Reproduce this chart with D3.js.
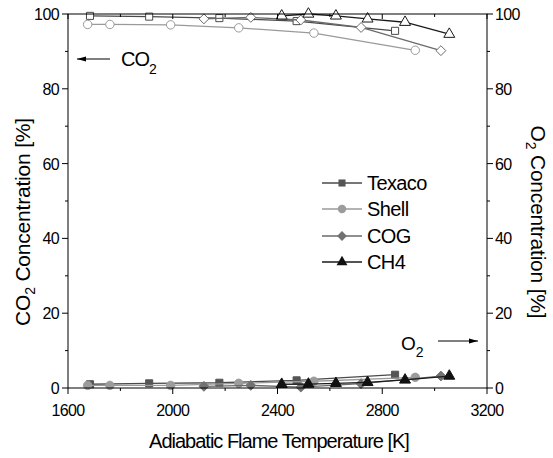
<!DOCTYPE html>
<html>
<head>
<meta charset="utf-8">
<script src="https://cdn.jsdelivr.net/npm/d3@7"></script>
<style>
	body { margin: 0; background: #fff; }
	svg text { font-family: "Liberation Sans", Arial, sans-serif; fill: #000; }
</style>
</head>
<body>
<div id="chart"></div>
<script>
"use strict";

// fuels, in legend order
var fuels = ["Texaco", "Shell", "COG", "CH4"];

// adiabatic flame temperatures [K], one array per fuel
var texacoT = [1684, 1910, 2178, 2473, 2849];
var shellT  = [1675, 1760, 1992, 2252, 2539, 2926];
var cogT    = [2119, 2298, 2489, 2719, 3024];
var ch4T    = [2416, 2518, 2623, 2744, 2887, 3056];

// CO2 concentration [%] (left axis)
var texacoCO2 = [99.5, 99.3, 98.9, 98.1, 95.5];
var shellCO2  = [97.2, 97.2, 97.1, 96.3, 94.9, 90.3];
var cogCO2    = [98.7, 99.1, 98.4, 96.4, 90.2];
var ch4CO2    = [99.5, 100, 99.5, 98.7, 97.8, 94.6];

// O2 concentration [%] (right axis)
var texacoO2 = [1.0, 1.25, 1.4, 2.05, 3.55];
var shellO2  = [0.7, 0.7, 0.7, 1.25, 1.8, 2.85];
var cogO2    = [0.45, 0.7, 0.25, 1.15, 3.2];
var ch4O2    = [1.0, 1.05, 1.25, 1.5, 2.15, 3.2];

// tick values
var xTicks = [1600, 2000, 2400, 2800, 3200];
var yTicks = [0, 20, 40, 60, 80, 100];

var W = 553, H = 458;
var L = 68, R = 487, T = 14, B = 388;

var series = [
	{name: "Texaco", t: texacoT, co2: texacoCO2, o2: texacoO2, sym: d3.symbolSquare,   size: 50, line: "#4a4a4a", fill: "#555555"},
	{name: "Shell",  t: shellT,  co2: shellCO2,  o2: shellO2,  sym: d3.symbolCircle,   size: 56, line: "#9a9a9a", fill: "#9c9c9c"},
	{name: "COG",    t: cogT,    co2: cogCO2,    o2: cogO2,    sym: d3.symbolDiamond2, size: 62, line: "#6a6a6a", fill: "#727272"},
	{name: "CH4",    t: ch4T,    co2: ch4CO2,    o2: ch4O2,    sym: d3.symbolTriangle, size: 52, line: "#1a1a1a", fill: "#111111"}
];

var svg = d3.select("#chart").append("svg")
	.attr("width", W).attr("height", H);

var x = d3.scaleLinear().domain([1600, 3200]).range([L, R]);
var y = d3.scaleLinear().domain([0, 100]).range([B, T]);

var minorX = d3.range(1800, 3200, 400);
var minorY = d3.range(10, 100, 20);

//
//	Frame and ticks
//
function drawAxes(){
	var g = svg.append("g").attr("stroke", "#000").attr("stroke-width", 1).attr("fill", "none");
	g.append("rect").attr("x", L).attr("y", T).attr("width", R - L).attr("height", B - T);

	// bottom: outward, top: inward
	xTicks.forEach(function(v){
		g.append("line").attr("x1", x(v)).attr("x2", x(v)).attr("y1", B).attr("y2", B + 6);
		g.append("line").attr("x1", x(v)).attr("x2", x(v)).attr("y1", T).attr("y2", T + 5);
	});
	minorX.forEach(function(v){
		g.append("line").attr("x1", x(v)).attr("x2", x(v)).attr("y1", B).attr("y2", B + 3);
		g.append("line").attr("x1", x(v)).attr("x2", x(v)).attr("y1", T).attr("y2", T + 3);
	});
	// left and right, both outward
	yTicks.forEach(function(v){
		g.append("line").attr("x1", L - 6).attr("x2", L).attr("y1", y(v)).attr("y2", y(v));
		g.append("line").attr("x1", R).attr("x2", R + 6).attr("y1", y(v)).attr("y2", y(v));
	});
	minorY.forEach(function(v){
		g.append("line").attr("x1", L - 3).attr("x2", L).attr("y1", y(v)).attr("y2", y(v));
		g.append("line").attr("x1", R).attr("x2", R + 3).attr("y1", y(v)).attr("y2", y(v));
	});

	var lab = svg.append("g").style("font-size", "16px").style("letter-spacing", "-0.6px");
	xTicks.forEach(function(v){
		lab.append("text").attr("x", x(v)).attr("y", 416).attr("text-anchor", "middle").text(v);
	});
	yTicks.forEach(function(v){
		lab.append("text").attr("x", L - 9).attr("y", y(v) + 6).attr("text-anchor", "end").text(v);
		lab.append("text").attr("x", R + 8).attr("y", y(v) + 6).attr("text-anchor", "start").text(v);
	});
}

//
//	Titles (with subscripts)
//
function drawTitles(){
	svg.append("text").attr("x", 279).attr("y", 448).attr("text-anchor", "middle")
		.style("font-size", "20px").style("letter-spacing", "-1px")
		.text("Adiabatic Flame Temperature [K]");

	var lt = svg.append("text").attr("transform", "translate(30,222) rotate(-90)")
		.attr("text-anchor", "middle").style("font-size", "21px").style("letter-spacing", "-0.2px");
	lt.append("tspan").text("CO");
	lt.append("tspan").attr("dy", 5).style("font-size", "14px").text("2");
	lt.append("tspan").attr("dy", -5).text(" Concentration [%]");

	var rt = svg.append("text").attr("transform", "translate(531,222) rotate(90)")
		.attr("text-anchor", "middle").style("font-size", "21px").style("letter-spacing", "-0.2px");
	rt.append("tspan").text("O");
	rt.append("tspan").attr("dy", 5).style("font-size", "14px").text("2");
	rt.append("tspan").attr("dy", -5).text(" Concentration [%]");
}

//
//	Curves: CO2 with open markers, O2 with filled ones
//
function drawSeries(){
	var line = d3.line().x(function(d){ return x(d[0]); }).y(function(d){ return y(d[1]); });
	["co2", "o2"].forEach(function(key){
		series.forEach(function(s){
			var pts = s.t.map(function(t, i){ return [t, s[key][i]]; });
			var g = svg.append("g");
			g.append("path").attr("d", line(pts)).attr("fill", "none")
				.attr("stroke", s.line).attr("stroke-width", 1.3);
			g.selectAll("path.m").data(pts).enter().append("path").attr("class", "m")
				.attr("transform", function(d){ return "translate(" + x(d[0]) + "," + y(d[1]) + ")"; })
				.attr("d", d3.symbol().type(s.sym).size(s.size))
				.attr("fill", key == "co2" ? "#fff" : s.fill)
				.attr("stroke", key == "co2" ? s.line : s.fill)
				.attr("stroke-width", 1);
		});
	});
}

function drawLegend(){
	var lg = svg.append("g");
	var rows = [183, 209, 236, 262];
	series.forEach(function(s, i){
		var yy = rows[i];
		lg.append("line").attr("x1", 322).attr("x2", 362).attr("y1", yy).attr("y2", yy)
			.attr("stroke", s.line).attr("stroke-width", 1.3);
		lg.append("path").attr("transform", "translate(342," + yy + ")")
			.attr("d", d3.symbol().type(s.sym).size(s.size)).attr("fill", s.fill);
		lg.append("text").attr("x", 367).attr("y", yy + 7)
			.style("font-size", "20px").style("letter-spacing", "-0.6px").text(fuels[i]);
	});
}

function arrow(x1, x2, yy){
	svg.append("line").attr("x1", x1).attr("x2", x2).attr("y1", yy).attr("y2", yy)
		.attr("stroke", "#000").attr("stroke-width", 1.2);
	var d = x2 > x1 ? 1 : -1;
	svg.append("path")
		.attr("d", "M" + x2 + "," + yy + "L" + (x2 - d * 9) + "," + (yy - 2.5) + "L" + (x2 - d * 9) + "," + (yy + 2.5) + "Z")
		.attr("fill", "#000");
}

function drawNotes(){
	arrow(110, 77, 59);
	var t1 = svg.append("text").attr("x", 121).attr("y", 66).style("font-size", "20px").style("letter-spacing", "-1px");
	t1.append("tspan").text("CO");
	t1.append("tspan").attr("dy", 8).style("font-size", "14px").text("2");

	arrow(438, 478, 341);
	var t2 = svg.append("text").attr("x", 401).attr("y", 350).style("font-size", "19px");
	t2.append("tspan").text("O");
	t2.append("tspan").attr("dy", 7).style("font-size", "14px").text("2");
}

drawSeries();
drawAxes();
drawTitles();
drawLegend();
drawNotes();
</script>
</body>
</html>
